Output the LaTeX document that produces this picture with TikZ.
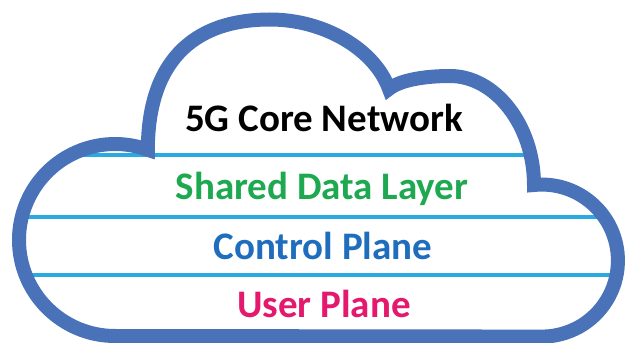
\documentclass[tikz,border=0pt]{standalone}
\usepackage{fontspec}
\setmainfont{Carlito}
\usepackage{tikz}

\definecolor{cloudblue}{RGB}{74,114,185}
\definecolor{layerblue}{RGB}{41,170,226}
\definecolor{sharedgreen}{RGB}{30,168,80}
\definecolor{controlblue}{RGB}{31,110,190}
\definecolor{userpink}{RGB}{228,24,108}

% outline of the cloud
\newcommand{\cloudpath}{(115,7) arc[start angle=270, end angle=70, radius=96]
	.. controls (148,278) and (190,323.5) .. (270,323.5)
	.. controls (325,323.5) and (375,293) .. (389,254)
	.. controls (400,263) and (425,267) .. (450,267)
	.. controls (495,267) and (534,218) .. (534,158)
	arc[start angle=96, end angle=-90, radius=76] -- cycle}

\begin{document}
\begin{tikzpicture}[x=1pt, y=1pt]
				\tikzstyle{cloud} = [draw=cloudblue, line width=14pt, line join=miter];
				\tikzstyle{layer} = [draw=layerblue, line width=4pt];
				\tikzstyle{label} = [anchor=base, inner sep=0pt, font=\bfseries\fontsize{39}{39}\selectfont];
				
				\useasboundingbox (0,0) rectangle (625,343);
				
				\begin{scope}
					\clip \cloudpath;
					\foreach \y in {188,126,68}
						\draw[layer] (0,\y) -- (625,\y);
				\end{scope}
				\draw[cloud] \cloudpath;
				
				\node[label, black] (core network) at (324,211) {5G Core Network};
				\node[label, sharedgreen] (shared data) at (322,143) {Shared Data Layer};
				\node[label, controlblue] (control plane) at (323,83) {Control Plane};
				\node[label, userpink] (user plane) at (324,25) {User Plane};
			\end{tikzpicture}
\end{document}
